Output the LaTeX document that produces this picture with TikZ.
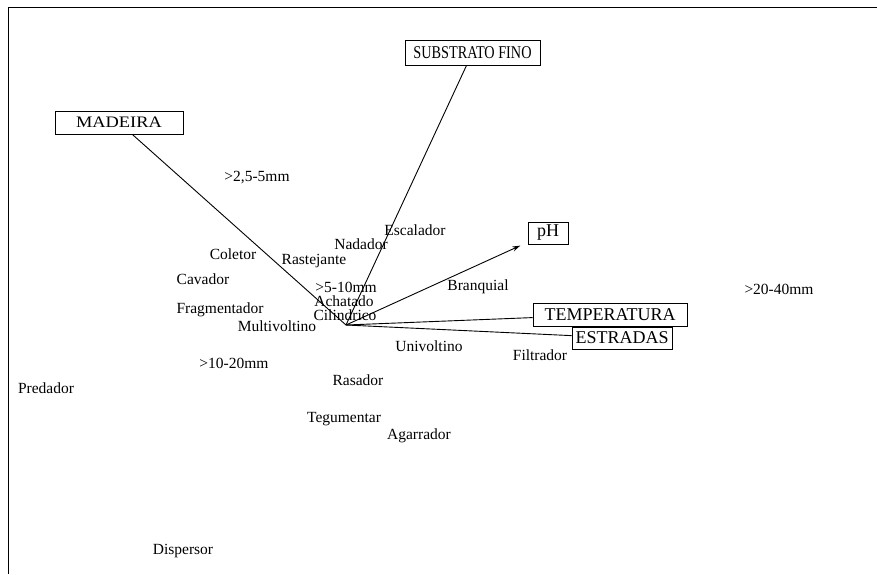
\documentclass[tikz,border=0pt]{standalone}
\usepackage{fontspec}
\setmainfont{Liberation Serif}
\usetikzlibrary{arrows.meta}

\begin{document}
\begin{tikzpicture}[x=1pt, y=-1pt, line width=0.9pt,
  var/.style={draw, fill=white, inner sep=0pt, font=\fontsize{18}{18}\selectfont},
  trait/.style={inner sep=0pt, font=\fontsize{15.5}{16}\selectfont}]
  \useasboundingbox (0,0) rectangle (877,574);
  \draw (8,574) -- (8,7) -- (877,7);
  \coordinate (origin) at (346,325);
  % environmental variables
  \node (substrato) [var, minimum width=135pt, minimum height=25pt, font=\fontsize{15}{15}\selectfont] at (472.5,52.5) {\scalebox{0.95}[1.2]{SUBSTRATO FINO}};
  \node (madeira) [var, minimum width=128pt, minimum height=23pt, font=\fontsize{16}{16}\selectfont] at (119,122.5) {\scalebox{1.15}[1]{MADEIRA}};
  \node (ph) [var, minimum width=40pt, minimum height=22pt] at (548,233) {pH};
  \node (temperatura) [var, minimum width=154pt, minimum height=23pt] at (610,314.5) {TEMPERATURA};
  \node (estradas) [var, minimum width=100pt, minimum height=22pt] at (622,338) {ESTRADAS};
  \draw (origin) -- (substrato);
  \draw (origin) -- (madeira);
  \draw[-{Stealth[length=8pt, width=5pt]}, shorten >=8pt] (origin) -- (ph);
  \draw (origin) -- (temperatura);
  \draw (origin) -- (estradas);
  % traits
  \node (t1) [trait] at (257,178) {>2,5-5mm};
  \node (t2) [trait] at (415,230) {Escalador};
  \node (t3) [trait] at (361,244) {Nadador};
  \node (t4) [trait] at (233,254) {Coletor};
  \node (t5) [trait] at (314,261) {Rastejante};
  \node (t6) [trait] at (203,279) {Cavador};
  \node (t7) [trait] at (346,287) {>5-10mm};
  \node (t8) [trait] at (478,287) {Branquial};
  \node (t9) [trait] at (779,289) {>20-40mm};
  \node (t10) [trait] at (344,301) {Achatado};
  \node (t11) [trait] at (220,310) {Fragmentador};
  \node (t12) [trait] at (345,315) {Cilindrico};
  \node (t13) [trait] at (277,326) {Multivoltino};
  \node (t14) [trait] at (429,346) {Univoltino};
  \node (t15) [trait] at (540,355) {Filtrador};
  \node (t16) [trait] at (234,363) {>10-20mm};
  \node (t17) [trait] at (358,380) {Rasador};
  \node (t18) [trait] at (46,388) {Predador};
  \node (t19) [trait] at (344,419) {Tegumentar};
  \node (t20) [trait] at (419,436) {Agarrador};
  \node (t21) [trait] at (183,551) {Dispersor};
\end{tikzpicture}
\end{document}
